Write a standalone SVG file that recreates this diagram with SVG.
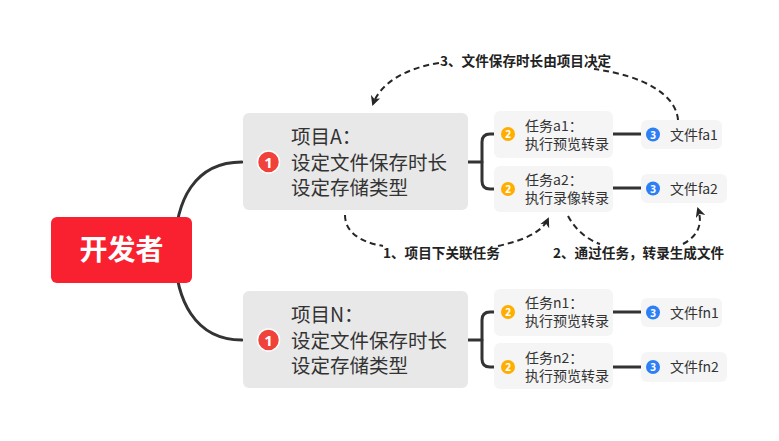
<svg xmlns="http://www.w3.org/2000/svg" width="779" height="441" viewBox="0 0 779 441">
<defs>
<style>
.t{font-family:"Noto Sans CJK SC","Noto Sans",sans-serif;fill:#333}
.proj{fill:#e8e8e8}
.task{fill:#f5f5f5}
.file{fill:#f5f5f5}
.ln{fill:none;stroke:#333;stroke-width:3;stroke-linecap:round}
.dash{fill:none;stroke:#262626;stroke-width:2;stroke-dasharray:6 4}
.lbl{font-family:"Noto Sans CJK SC","Noto Sans",sans-serif;font-weight:bold;font-size:13.6px;fill:#222}
.b1{fill:#f0413a;stroke:#fff;stroke-width:1.5}
.b2{fill:#ffae00}
.b3{fill:#2d7ff5}
.bt{font-family:"Noto Sans","Noto Sans CJK SC",sans-serif;font-weight:bold;fill:#fff;text-anchor:middle}
</style>
<marker id="ah" viewBox="0 0 10 10" refX="8" refY="5" markerWidth="5" markerHeight="5" orient="auto" markerUnits="strokeWidth">
<path d="M0,0 L10,5 L0,10 L3,5 Z" fill="#262626"/>
</marker>
</defs>
<rect width="779" height="441" fill="#fff"/>
<g id="connectors">
<path class="ln" d="M242,162 C195,162 175,200 175,250 C175,300 195,340 242,340"/>
<path class="ln" d="M468,162 L482,162"/>
<path class="ln" d="M494,134 L490,134 Q482,134 482,142 L482,181 Q482,189 490,189 L494,189"/>
<path class="ln" d="M468,340 L482,340"/>
<path class="ln" d="M494,312 L490,312 Q482,312 482,320 L482,359 Q482,367 490,367 L494,367"/>
<path class="ln" d="M613,134 L641,134"/>
<path class="ln" d="M613,188 L641,188"/>
<path class="ln" d="M613,312 L641,312"/>
<path class="ln" d="M613,367 L641,367"/>
<path class="dash" d="M678,120 C676,95 645,76 594,69"/>
<path class="dash" d="M439,63 C405,68 380,84 373,104" marker-end="url(#ah)"/>
<path class="dash" d="M345,215 C345,232 360,242 383,246"/>
<path class="dash" d="M498,246 C525,240 542,232 548,219" marker-end="url(#ah)"/>
<path class="dash" d="M568,216 C575,229 586,239 600,244"/>
<path class="dash" d="M683,244 C698,236 703,224 698,209" marker-end="url(#ah)"/>
<text class="lbl" x="440" y="66">3、文件保存时长由项目决定</text>
<text class="lbl" x="383" y="258">1、项目下关联任务</text>
<text class="lbl" x="553" y="258">2、通过任务，转录生成文件</text>
</g>
<g id="root">
<rect x="51" y="217" width="141" height="66" rx="6" fill="#f9212f"/>
<text x="121.5" y="260" font-family="Noto Sans CJK SC,sans-serif" font-weight="bold" font-size="28" fill="#fff" text-anchor="middle">开发者</text>
</g>
<g id="projectA">
<rect class="proj" x="243" y="113" width="225" height="97" rx="6"/>
<circle class="b1" cx="268.5" cy="162" r="11"/>
<text class="bt" x="268.5" y="167.5" font-size="15">1</text>
<text class="t" font-size="19.5"><tspan x="291" y="144">项目A：</tspan><tspan x="291" y="170">设定文件保存时长</tspan><tspan x="291" y="195">设定存储类型</tspan></text>
</g>
<g id="projectN">
<rect class="proj" x="243" y="291" width="225" height="97" rx="6"/>
<circle class="b1" cx="268.5" cy="340" r="11"/>
<text class="bt" x="268.5" y="345.5" font-size="15">1</text>
<text class="t" font-size="19.5"><tspan x="291" y="322">项目N：</tspan><tspan x="291" y="348">设定文件保存时长</tspan><tspan x="291" y="373">设定存储类型</tspan></text>
</g>
<g id="taskA1">
<rect class="task" x="494" y="111" width="119" height="47" rx="6"/>
<circle class="b2" cx="508" cy="134" r="7"/>
<text class="bt" x="508" y="138" font-size="10">2</text>
<text class="t" font-size="14"><tspan x="525" y="131">任务a1：</tspan><tspan x="525" y="149">执行预览转录</tspan></text>
</g>
<g id="taskA2">
<rect class="task" x="494" y="166" width="119" height="46" rx="6"/>
<circle class="b2" cx="508" cy="189" r="7"/>
<text class="bt" x="508" y="193" font-size="10">2</text>
<text class="t" font-size="14"><tspan x="525" y="185">任务a2：</tspan><tspan x="525" y="203">执行录像转录</tspan></text>
</g>
<g id="taskN1">
<rect class="task" x="494" y="289" width="119" height="47" rx="6"/>
<circle class="b2" cx="508" cy="312" r="7"/>
<text class="bt" x="508" y="316" font-size="10">2</text>
<text class="t" font-size="14"><tspan x="525" y="308">任务n1：</tspan><tspan x="525" y="326">执行预览转录</tspan></text>
</g>
<g id="taskN2">
<rect class="task" x="494" y="343" width="119" height="46" rx="6"/>
<circle class="b2" cx="508" cy="367" r="7"/>
<text class="bt" x="508" y="371" font-size="10">2</text>
<text class="t" font-size="14"><tspan x="525" y="363">任务n2：</tspan><tspan x="525" y="381">执行预览转录</tspan></text>
</g>
<g id="fileA1">
<rect class="file" x="641" y="120" width="81" height="29" rx="6"/>
<circle class="b3" cx="653" cy="134.5" r="7"/>
<text class="bt" x="653" y="138.5" font-size="10">3</text>
<text class="t" x="670" y="139.5" font-size="14">文件fa1</text>
</g>
<g id="fileA2">
<rect class="file" x="641" y="174" width="86" height="29" rx="6"/>
<circle class="b3" cx="653" cy="188.5" r="7"/>
<text class="bt" x="653" y="192.5" font-size="10">3</text>
<text class="t" x="670" y="193.5" font-size="14">文件fa2</text>
</g>
<g id="fileN1">
<rect class="file" x="641" y="298" width="81" height="29" rx="6"/>
<circle class="b3" cx="653" cy="312.5" r="7"/>
<text class="bt" x="653" y="316.5" font-size="10">3</text>
<text class="t" x="670" y="317.5" font-size="14">文件fn1</text>
</g>
<g id="fileN2">
<rect class="file" x="641" y="352" width="86" height="30" rx="6"/>
<circle class="b3" cx="653" cy="367" r="7"/>
<text class="bt" x="653" y="371" font-size="10">3</text>
<text class="t" x="670" y="372" font-size="14">文件fn2</text>
</g>
</svg>
